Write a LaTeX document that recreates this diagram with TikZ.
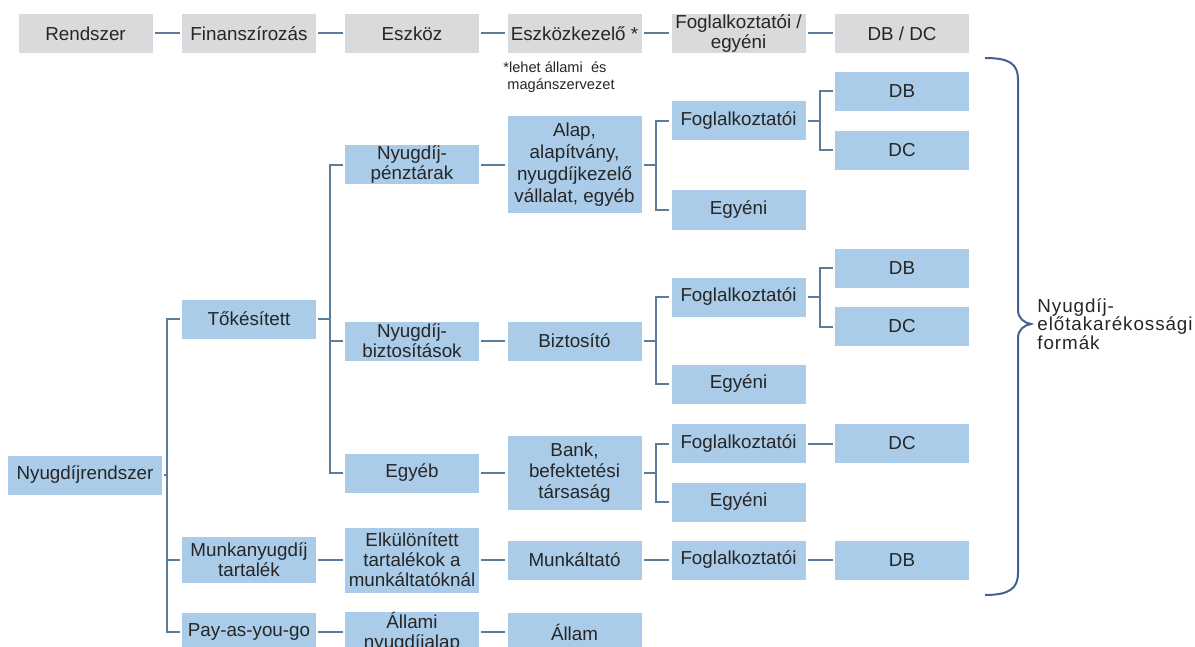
\documentclass[tikz,border=0pt]{standalone}
\usepackage{fontspec}
\setmainfont{Liberation Sans}
\usepackage{tikz}
\usetikzlibrary{calc}
\definecolor{fejszurke}{RGB}{218,218,220}
\definecolor{dobozkek}{RGB}{170,204,232}
\definecolor{vonalkek}{RGB}{92,124,156}
\definecolor{kapocskek}{RGB}{66,98,146}
\definecolor{szoveg}{RGB}{38,38,38}

\begin{document}
\begin{tikzpicture}[x=0.5pt,y=-0.5pt,
  font={\fontsize{9.4}{10}\selectfont}, text=szoveg,
  fej/.style={fill=fejszurke, minimum width=67pt, minimum height=19.5pt, inner sep=0pt, align=center},
  doboz/.style={fill=dobozkek, minimum width=67pt, minimum height=19.5pt, inner sep=0pt, align=center},
  link/.style={draw=vonalkek, line width=1pt, shorten <=1pt, shorten >=1pt}]
  % 画布（像素坐标，y 向下）
  \path[use as bounding box, fill=white] (0,0) rectangle (1195,647);
  \clip (0,0) rectangle (1195,647);
  % 表头
  \node[fej] (rendszer) at (85.5,33.5) {Rendszer};
  \node[fej] (finansz) at (249,33.5) {Finanszírozás};
  \node[fej] (eszkoz) at (412,33.5) {Eszköz};
  \node[fej] (kezelo) at (574.5,33.5) {Eszközkezelő *};
  \node[fej] (fogl) at (738.5,33.5) {Foglalkoztatói /\\egyéni};
  \node[fej] (dbdc) at (902,33.5) {DB / DC};
  \foreach \a/\b in {rendszer/finansz,finansz/eszkoz,eszkoz/kezelo,kezelo/fogl,fogl/dbdc}
    \draw[link] (\a) -- (\b);
  \node[anchor=north west, align=left, inner sep=0pt, font={\fontsize{7.3}{8.6}\selectfont}] (megj) at (503,61) {*lehet állami \ és\\\ magánszervezet};
  % 第一、二列
  \node[doboz, minimum width=77pt] (nyr) at (85,475) {Nyugdíjrendszer};
  \node[doboz] (tok) at (249,319) {Tőkésített};
  \node[doboz, minimum height=23pt] (mnyt) at (249,560) {Munkanyugdíj\\tartalék};
  \node[doboz] (payg) at (249,632) {Pay-as-you-go};
  % 第三列
  \node[doboz] (npt) at (412,165) {Nyugdíj-\\pénztárak};
  \node[doboz] (nybt) at (412,341) {Nyugdíj-\\biztosítások};
  \node[doboz] (egyeb) at (412,473) {Egyéb};
  \node[doboz, minimum height=32.5pt] (elk) at (412,560) {Elkülönített\\tartalékok a\\munkáltatóknál};
  \node[doboz] (anya) at (412,632) {Állami\\nyugdíjalap};
  % 第四列
  \node[doboz, minimum height=48.5pt, font={\fontsize{9.4}{11}\selectfont}] (alap) at (574.5,165) {Alap,\\alapítvány,\\nyugdíjkezelő\\vállalat, egyéb};
  \node[doboz] (bizt) at (574.5,341) {Biztosító};
  \node[doboz, minimum height=37pt, font={\fontsize{9.4}{10.5}\selectfont}] (bank) at (574.5,473) {Bank,\\befektetési\\társaság};
  \node[doboz] (munk) at (574.5,560) {Munkáltató};
  \node[doboz] (allam) at (574.5,632) {Állam};
  % 第五列
  \node[doboz] (f1) at (738.5,121) {Foglalkoztatói};
  \node[doboz] (e1) at (738.5,210) {Egyéni};
  \node[doboz] (f2) at (738.5,297) {Foglalkoztatói};
  \node[doboz] (e2) at (738.5,384) {Egyéni};
  \node[doboz] (f3) at (738.5,443.5) {Foglalkoztatói};
  \node[doboz] (e3) at (738.5,502) {Egyéni};
  \node[doboz] (f4) at (738.5,560) {Foglalkoztatói};
  % 第六列
  \node[doboz] (db1) at (902,91.5) {DB};
  \node[doboz] (dc1) at (902,150.5) {DC};
  \node[doboz] (db2) at (902,268) {DB};
  \node[doboz] (dc2) at (902,326.5) {DC};
  \node[doboz] (dc3) at (902,443.5) {DC};
  \node[doboz] (db3) at (902,560) {DB};
  % 分叉连线
  \foreach \c in {tok,mnyt,payg}
    \draw[link] (nyr.east) -- ++(5,0) |- (\c.west);
  \foreach \c in {npt,nybt,egyeb}
    \draw[link] (tok.east) -- ++(14,0) |- (\c.west);
  \foreach \p/\c in {alap/f1,alap/e1,bizt/f2,bizt/e2,bank/f3,bank/e3,f1/db1,f1/dc1,f2/db2,f2/dc2}
    \draw[link] (\p.east) -- ++(14,0) |- (\c.west);
  % 直线连线
  \foreach \a/\b in {npt/alap,nybt/bizt,egyeb/bank,mnyt/elk,elk/munk,munk/f4,f4/db3,f3/dc3,payg/anya,anya/allam}
    \draw[link] (\a) -- (\b);
  % 右侧大括号
  \draw[kapocskek, line width=1pt] (985,58) .. controls (1010,58) and (1018,64) .. (1018,80)
    -- (1018,310) .. controls (1018,318) and (1024,323) .. (1031,324)
    .. controls (1024,325) and (1018,330) .. (1018,338)
    -- (1018,573) .. controls (1018,588) and (1010,595) .. (985,595);
  \node[anchor=west, align=left, inner sep=0pt, font={\fontsize{9.4}{9.4}\selectfont\addfontfeature{LetterSpace=5}}] (forma) at (1037,324) {Nyugdíj-\\előtakarékossági\\formák};
\end{tikzpicture}
\end{document}
